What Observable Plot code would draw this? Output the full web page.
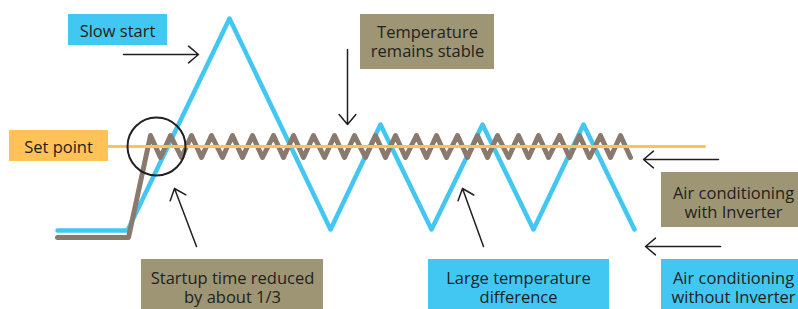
<!DOCTYPE html>
<html>
<head>
<meta charset="utf-8">
<script src="https://cdn.jsdelivr.net/npm/d3@7"></script>
<script src="https://cdn.jsdelivr.net/npm/@observablehq/plot@0.6"></script>
<style>
  html, body { margin: 0; padding: 0; background: #ffffff; }
  #chart { width: 798px; height: 309px; }
</style>
</head>
<body>
<div id="chart"></div>
<script>
// Time axis (arbitrary units) and temperature relative to the set point (0)
const setPoint = 0;
const setPointX = [108, 704];

// Air conditioning without Inverter (blue)
const withoutX = [57, 127, 229, 330, 380, 431, 482, 533, 583, 634];
const withoutT = [-84, -84, 128, -83, 22, -83, 22, -83, 22, -83];

// Air conditioning with Inverter (brown)
const withX = [57, 128, 150, 160, 170, 181, 191, 201, 211, 222, 232, 242, 252, 262, 273, 283, 293, 303,
  313, 324, 334, 344, 354, 365, 375, 385, 395, 405, 416, 426, 436, 446, 457, 467, 477, 487,
  497, 508, 518, 528, 538, 548, 559, 569, 579, 589, 600, 610, 620, 630];
const withT = [-91, -91, 11, -11, 11, -11, 11, -11, 11, -11, 11, -11, 11, -11, 11, -11, 11, -11,
  11, -11, 11, -11, 11, -11, 11, -11, 11, -11, 11, -11, 11, -11, 11, -11, 11, -11,
  11, -11, 11, -11, 11, -11, 11, -11, 11, -11, 11, -11, 11, -11];

// Label boxes
const labels = ["Set point", "Slow start", "Temperature\nremains stable", "Startup time reduced\nby about 1/3",
  "Large temperature\ndifference", "Air conditioning\nwith Inverter", "Air conditioning\nwithout Inverter"];
const labelKind = ["set", "without", "with", "with", "without", "with", "without"];
const boxX1 = [9, 68, 360, 141, 428, 661, 661];
const boxX2 = [108, 167, 494, 323, 609, 798, 798];
const boxT1 = [16, 132, 132, -113, -113, -26, -113];
const boxT2 = [-15, 101, 77, -163, -163, -81, -163];
const textX = [58, 117, 427, 232, 518, 733, 733];
const textT = [0, 116, 105, -140.5, -140.5, -56, -140.5];

// Pointer arrows
const arrowX1 = [123, 347, 196, 483, 718, 720];
const arrowT1 = [92, 97, -100, -100, -13, -100];
const arrowX2 = [198, 347, 174, 462, 643, 645];
const arrowT2 = [92, 22, -42, -42, -13, -100];

// Highlight circle
const circleX = [156];
const circleT = [0];

const colors = { without: "#41C7F2", with: "#9D9574", set: "#FFC257" };

const blueLine = withoutX.map((x, i) => ({ x, t: withoutT[i] }));
const brownLine = withX.map((x, i) => ({ x, t: withT[i] }));
const boxes = labels.map((text, i) => ({
  text, kind: labelKind[i], x1: boxX1[i], x2: boxX2[i], t1: boxT1[i], t2: boxT2[i], tx: textX[i], tt: textT[i]
}));
const arrows = arrowX1.map((x1, i) => ({ x1, t1: arrowT1[i], x2: arrowX2[i], t2: arrowT2[i] }));

const chart = Plot.plot({
  width: 798,
  height: 309,
  margin: 0,
  style: { background: "#ffffff", fontFamily: "'Open Sans', 'Noto Sans', sans-serif" },
  x: { domain: [0, 798], range: [0, 798], axis: null },
  y: { domain: [-163, 146], range: [309, 0], axis: null },
  marks: [
    Plot.line(blueLine, { x: "x", y: "t", stroke: colors.without, strokeWidth: 4.5, strokeLinejoin: "round", strokeLinecap: "round" }),
    Plot.line(brownLine, { x: "x", y: "t", stroke: "#8A7A6E", strokeWidth: 5, strokeLinejoin: "round", strokeLinecap: "round" }),
    Plot.line(setPointX.map(x => ({ x, t: setPoint })), { x: "x", y: "t", stroke: colors.set, strokeWidth: 3 }),
    Plot.dot(circleX.map((x, i) => ({ x, t: circleT[i] })), { x: "x", y: "t", r: 29, stroke: "#231F20", strokeWidth: 2, fill: "none" }),
    Plot.rect(boxes, { x1: "x1", x2: "x2", y1: "t1", y2: "t2", fill: d => colors[d.kind] }),
    Plot.text(boxes, { x: "tx", y: "tt", text: "text", fontSize: 16.5, fontWeight: 500, fill: "#231F20", lineHeight: 1.15, textAnchor: "middle" }),
    Plot.arrow(arrows, { x1: "x1", y1: "t1", x2: "x2", y2: "t2", stroke: "#231F20", strokeWidth: 1.5, headLength: 13, headAngle: 80 })
  ]
});
document.getElementById("chart").appendChild(chart);
</script>
</body>
</html>
